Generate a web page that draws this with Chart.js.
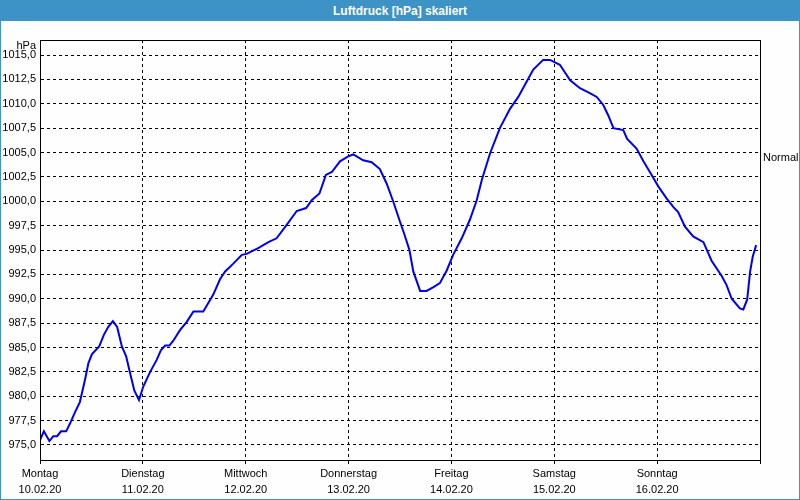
<!DOCTYPE html>
<html>
<head>
<meta charset="utf-8">
<script src="https://cdn.jsdelivr.net/npm/chart.js@4/dist/chart.umd.min.js"></script>
<style>
  html, body { margin: 0; padding: 0; background: #fff; }
  #wrap { width: 800px; height: 500px; box-sizing: border-box; border: 1px solid #3d92c6; background: #fdfefd; position: relative; overflow: hidden; }
  #head { height: 20px; background: #3d92c6; color: #fff; font: bold 12px "Liberation Sans", Arial, sans-serif; text-align: center; line-height: 20px; }
  canvas { display: block; }
</style>
</head>
<body>
<div id="wrap">
  <div id="head">Luftdruck [hPa] skaliert</div>
  <canvas id="c" width="798" height="478"></canvas>
</div>
<script>
const dayNames = ['Montag', 'Dienstag', 'Mittwoch', 'Donnerstag', 'Freitag', 'Samstag', 'Sonntag'];
const dayDates = ['10.02.20', '11.02.20', '12.02.20', '13.02.20', '14.02.20', '15.02.20', '16.02.20'];
const yTicks = [975, 977.5, 980, 982.5, 985, 987.5, 990, 992.5, 995, 997.5, 1000, 1002.5, 1005, 1007.5, 1010, 1012.5, 1015];
const normalValue = 1004.4;
const hours = [0, 0.9, 2.2, 3.1, 4.0, 4.9, 6.1, 7.0, 8.2, 9.3,
  10.5, 11.3, 12.1, 13.8, 14.9, 15.9, 17.0, 18.0, 19.1, 20.1,
  21.0, 22.0, 23.1, 24.1, 25.7, 27.2, 28.2, 29.2, 30.2, 31.1,
  32.7, 34.2, 35.8, 38.1, 39.3, 40.4, 42.0, 43.2, 45.1, 47.1,
  48.2, 50.9, 53.3, 55.2, 57.6, 59.9, 62.1, 63.4, 65.2, 66.7,
  68.1, 70.0, 71.9, 73.1, 75.4, 77.4, 79.3, 80.9, 82.4, 84.0,
  84.8, 86.2, 87.1, 88.7, 90.2, 91.8, 93.3, 94.9, 96.4, 98.4,
  100.3, 101.9, 103.1, 105.0, 107.3, 109.7, 111.6, 113.6, 115.1, 117.4,
  119.0, 121.3, 123.7, 126.0, 128.3, 129.9, 131.4, 132.6, 133.8, 136.1,
  137.0, 139.2, 140.8, 142.3, 144.3, 146.2, 147.8, 148.9, 150.5, 152.4,
  154.8, 156.7, 159.1, 160.2, 161.4, 163.3, 164.1, 165.0, 165.7, 166.3,
  167.1];
const pressure = [975.5, 976.4, 975.4, 975.9, 975.9, 976.4, 976.4, 977.2, 978.4, 979.4,
  981.7, 983.4, 984.3, 985.1, 986.3, 987.1, 987.7, 987.1, 985.1, 984.1,
  982.4, 980.6, 979.6, 981.0, 982.5, 983.7, 984.7, 985.2, 985.2, 985.7,
  986.8, 987.6, 988.7, 988.7, 989.6, 990.4, 992.0, 992.8, 993.6, 994.5,
  994.6, 995.2, 995.8, 996.2, 997.6, 999.0, 999.3, 1000.1, 1000.8, 1002.7,
  1003.0, 1004.1, 1004.6, 1004.8, 1004.2, 1004.0, 1003.3, 1001.8, 1000.0, 997.9,
  996.9, 995.0, 992.8, 990.8, 990.8, 991.2, 991.6, 992.9, 994.5, 996.2,
  998.1, 1000.1, 1002.2, 1004.9, 1007.5, 1009.5, 1010.7, 1012.3, 1013.5, 1014.5,
  1014.5, 1014.0, 1012.4, 1011.6, 1011.1, 1010.7, 1009.9, 1008.8, 1007.5, 1007.3,
  1006.4, 1005.4, 1004.1, 1003.0, 1001.5, 1000.3, 999.4, 998.9, 997.4, 996.4,
  995.8, 993.9, 992.3, 991.4, 990.0, 989.0, 988.9, 989.9, 992.8, 994.3,
  995.5];

const Y_MIN = 973.46, Y_MAX = 1016.54;
const FONT = { family: '"Liberation Sans", Arial, sans-serif', size: 11 };
const XFONT = { family: '"Liberation Sans", Arial, sans-serif', size: 11, lineHeight: '16px' };

const boxPlugin = {
  id: 'box',
  afterDraw(chart) {
    const { ctx, chartArea: a } = chart;
    ctx.save();
    ctx.strokeStyle = '#000';
    ctx.lineWidth = 1;
    ctx.setLineDash([]);
    ctx.strokeRect(Math.round(a.left) + 0.5, Math.round(a.top) + 0.5, Math.round(a.right - a.left), Math.round(a.bottom - a.top));
    ctx.fillStyle = '#000';
    ctx.font = '11px "Liberation Sans", Arial, sans-serif';
    ctx.textAlign = 'right';
    ctx.textBaseline = 'middle';
    ctx.fillText('hPa', a.left - 4, a.top + 6);
    ctx.restore();
  }
};

new Chart(document.getElementById('c'), {
  type: 'line',
  data: {
    datasets: [{
      data: hours.map((h, i) => ({ x: h, y: pressure[i] })),
      borderColor: '#0000ee',
      borderWidth: 2,
      pointRadius: 0,
      tension: 0,
      fill: false
    }]
  },
  options: {
    responsive: false,
    animation: false,
    devicePixelRatio: 1,
    layout: { padding: { top: 19, left: 0, right: 0, bottom: 0 } },
    plugins: { legend: { display: false }, tooltip: { enabled: false } },
    scales: {
      x: {
        type: 'linear',
        min: 0,
        max: 168,
        afterBuildTicks(scale) { scale.ticks = [0, 24, 48, 72, 96, 120, 144, 168].map(v => ({ value: v })); },
        afterFit(scale) { scale.height = 39; },
        ticks: {
          autoSkip: false,
          maxRotation: 0,
          padding: 2,
          color: '#000',
          font: XFONT,
          callback(v) {
            const i = Math.round(v / 24);
            return i < dayNames.length ? [dayNames[i], dayDates[i]] : '';
          }
        },
        grid: { color: '#000', lineWidth: 1, tickLength: 4, drawTicks: true },
        border: { display: true, color: '#000', width: 1, dash: [3, 3] }
      },
      y: {
        position: 'left',
        min: Y_MIN,
        max: Y_MAX,
        afterBuildTicks(scale) { scale.ticks = yTicks.map(v => ({ value: v })); },
        afterFit(scale) { scale.width = 39; },
        ticks: {
          padding: 4,
          color: '#000',
          font: FONT,
          callback(v) { return v.toFixed(1).replace('.', ','); }
        },
        grid: { color: '#000', lineWidth: 1, drawTicks: false },
        border: { display: true, color: '#000', width: 1, dash: [3, 3] }
      },
      yr: {
        position: 'right',
        min: Y_MIN,
        max: Y_MAX,
        afterBuildTicks(scale) { scale.ticks = [{ value: normalValue }]; },
        afterFit(scale) { scale.width = 39; },
        ticks: {
          padding: 3,
          color: '#000',
          font: FONT,
          callback() { return 'Normal'; }
        },
        grid: { display: false, drawTicks: false },
        border: { display: false }
      }
    }
  },
  plugins: [boxPlugin]
});
</script>
</body>
</html>
